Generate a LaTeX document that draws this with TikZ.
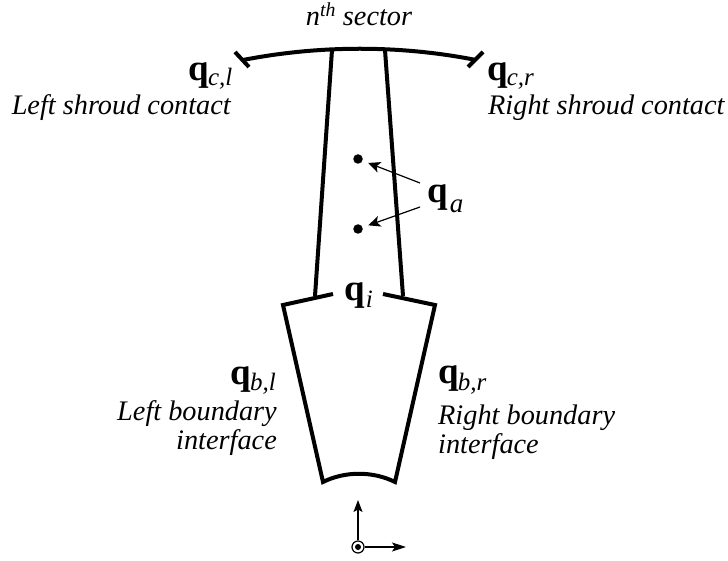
\documentclass[tikz,border=0pt]{standalone}
\usepackage{fontspec}
\setmainfont{Liberation Serif}
\usetikzlibrary{arrows.meta}

\newcommand{\qsym}[2]{{\fontsize{37}{37}\selectfont\bfseries q}\raisebox{#1}{\fontsize{25}{25}\selectfont\itshape #2}}

\begin{document}
\begin{tikzpicture}[x=1pt, y=-1pt,
			outline/.style = {line width=4pt, line join=miter},
			txt/.style = {inner sep=0pt, font=\fontsize{28.3}{29}\selectfont\itshape, align=left},
			qlabel/.style = {inner sep=0pt},
			dot/.style = {circle, fill=black, inner sep=0pt, minimum size=9.5pt},
			pointer/.style = {-{Stealth[length=12pt, width=11pt, inset=3pt]}, line width=1.2pt, shorten >=6pt}]

			\useasboundingbox (0, 0) rectangle (728, 561);

			% shroud with its two end ticks
			\draw [outline] (243, 60) .. controls (320, 45) and (400, 45) .. (476, 60);
			\draw [outline] (235, 52) -- (249, 67);
			\draw [outline] (483, 52) -- (468, 67);

			% blade
			\draw [outline] (332, 50) -- (315, 296);
			\draw [outline] (385, 50) -- (403, 296);

			% root
			\draw [outline] (333, 294) -- (283, 305) -- (323, 482) .. controls (345, 471) and (373, 471) .. (395, 482) -- (435, 305) -- (383, 294);

			% labels
			\node [txt, anchor=base] (sector) at (359, 26) {n\textsuperscript{th} sector};
			\node [qlabel, anchor=base east] (qcl) at (232.5, 80.5) {\qsym{-5.5pt}{\kern-1pt c,l}};
			\node [txt, anchor=base east] (lsc) at (231, 114.5) {Left shroud contact};
			\node [qlabel, anchor=base west] (qcr) at (487, 80.5) {\qsym{-5.5pt}{\kern-1pt c,r}};
			\node [txt, anchor=base west] (rsc) at (488, 114.5) {Right shroud contact};
			\node [qlabel, anchor=base west] (qa) at (427, 202.5) {\qsym{-10pt}{\kern2pt\fontsize{27}{27}\selectfont a}};
			\node [qlabel, anchor=base west] (qi) at (344, 300.5) {\qsym{-6.5pt}{\kern1pt i}};
			\node [qlabel, anchor=base east] (qbl) at (276, 384.5) {\qsym{-5.5pt}{\kern-1pt b,l}};
			\node [txt, anchor=base east, align=right] (lbi) at (277, 449) {Left boundary\\interface};
			\node [qlabel, anchor=base west] (qbr) at (438, 383.5) {\qsym{-6.5pt}{\kern-1pt b,r}};
			\node [txt, anchor=base west] (rbi) at (438, 453) {Right boundary\\interface};

			% the two dots
			\node [dot] (upper) at (358, 159) {};
			\node [dot] (lower) at (358, 229) {};
			\coordinate (qaup) at (420, 183);
			\coordinate (qalow) at (420, 207);
			\draw [pointer] (qaup) -- (upper);
			\draw [pointer] (qalow) -- (lower);

			% axes
			\node [circle, draw, line width=1.2pt, inner sep=0pt, minimum size=12pt] (origin) at (358, 547) {};
			\node [dot, minimum size=6pt] (centre) at (origin) {};
			\coordinate (yend) at (358, 500);
			\coordinate (xend) at (406, 547);
			\draw [-{Stealth[length=12pt, width=9pt, inset=2.5pt]}, line width=1.2pt] (origin) -- (yend);
			\draw [-{Stealth[length=14pt, width=9pt, inset=3pt]}, line width=1.2pt] (origin) -- (xend);
		\end{tikzpicture}
\end{document}
